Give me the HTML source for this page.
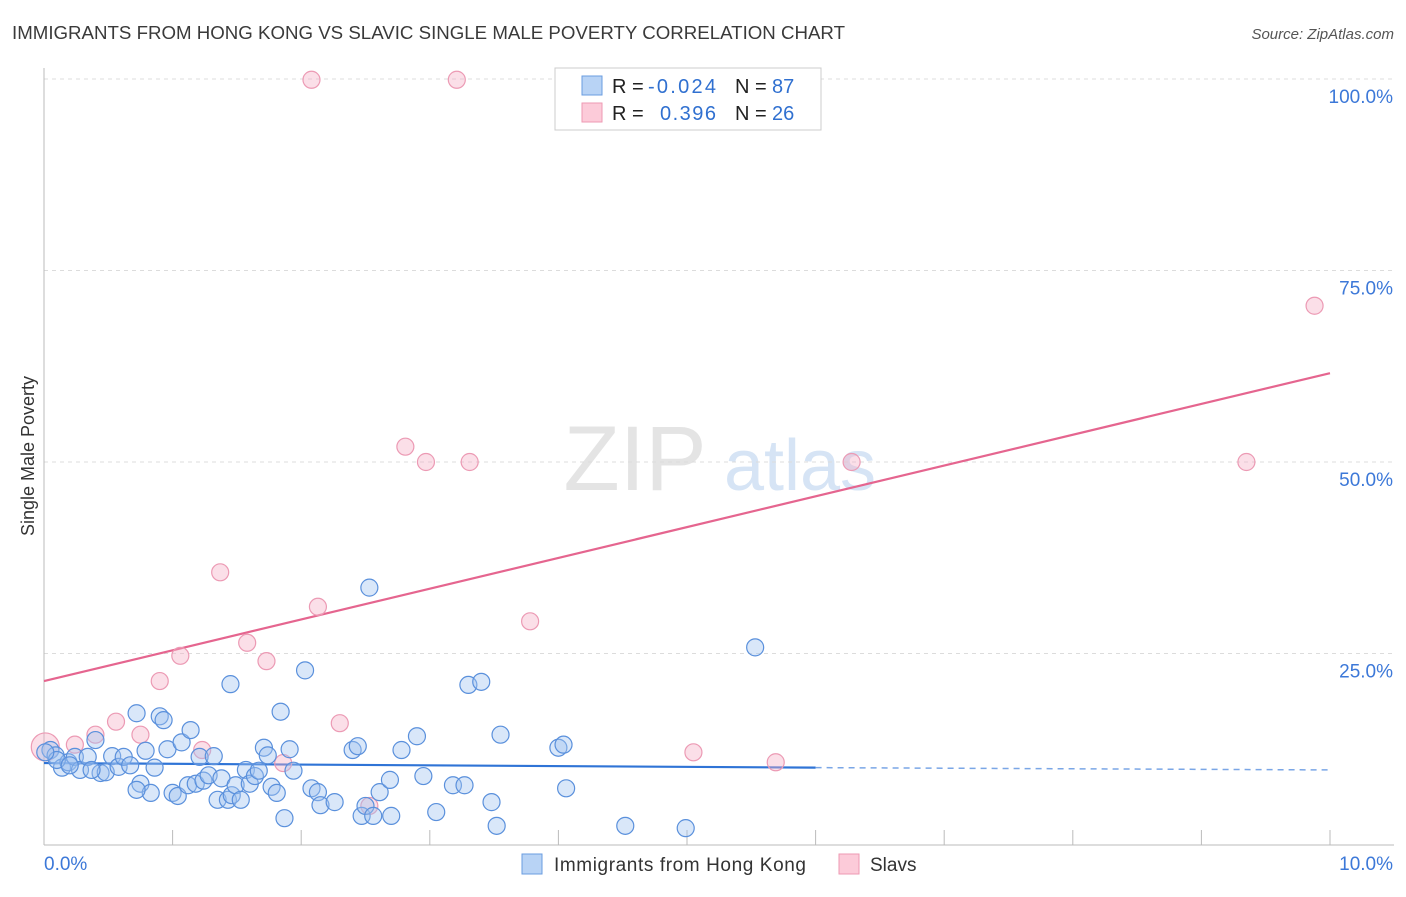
<!DOCTYPE html>
<html><head><meta charset="utf-8">
<style>
body{margin:0;background:#fff;font-family:"Liberation Sans",sans-serif;}
svg text{font-family:"Liberation Sans",sans-serif;}
</style></head>
<body>
<svg id="chart" width="1406" height="892" xmlns="http://www.w3.org/2000/svg">
<text x="12" y="39" font-size="18" fill="#3a3a3a" textLength="833" lengthAdjust="spacingAndGlyphs">IMMIGRANTS FROM HONG KONG VS SLAVIC SINGLE MALE POVERTY CORRELATION CHART</text>
<text x="1394" y="39" font-size="15" fill="#555" text-anchor="end" font-style="italic">Source: ZipAtlas.com</text>
<text x="34" y="456" font-size="18" fill="#333" transform="rotate(-90 34 456)" text-anchor="middle">Single Male Poverty</text>
<g>
<text x="635" y="490" font-size="92" fill="#e4e4e4" text-anchor="middle" font-family="Liberation Serif, serif">ZIP</text>
<text x="800" y="490" font-size="72" fill="#d6e4f5" text-anchor="middle">atlas</text>
</g>
<g id="grid"></g>
<g id="axes"></g>
<g id="trends"></g>
<g id="points"></g>
<g>
<rect x="555" y="68" width="266" height="62" fill="#fff" stroke="#ccc"/>
<rect x="582" y="76" width="20" height="19" fill="#b8d3f5" stroke="#6a9de0"/>
<rect x="582" y="103" width="20" height="19" fill="#fccbd9" stroke="#ee9ab3"/>
<text x="612" y="93" font-size="20" fill="#222">R = </text><text x="648" y="93" font-size="20" fill="#3070d0" textLength="68">-0.024</text>
<text x="735" y="93" font-size="20" fill="#222">N = </text><text x="772" y="93" font-size="20" fill="#3070d0">87</text>
<text x="612" y="120" font-size="20" fill="#222">R = </text><text x="660" y="120" font-size="20" fill="#3070d0" textLength="56">0.396</text>
<text x="735" y="120" font-size="20" fill="#222">N = </text><text x="772" y="120" font-size="20" fill="#3070d0">26</text>
</g>
<g>
<rect x="522" y="854" width="20" height="20" fill="#b8d3f5" stroke="#6a9de0"/>
<text x="554" y="871" font-size="19" fill="#333" textLength="252">Immigrants from Hong Kong</text>
<rect x="839" y="854" width="20" height="20" fill="#fccbd9" stroke="#ee9ab3"/>
<text x="870" y="871" font-size="19" fill="#333">Slavs</text>
</g>
</svg>
<script>
const blueX=[0.05,0.09,0.14,0.19,0.24,0.28,0.34,0.40,0.44,0.48,0.53,0.58,0.62,0.67,0.72,0.75,0.79,0.83,0.86,0.90,0.93,0.96,1.00,1.04,1.07,1.12,1.14,1.18,1.21,1.24,1.28,1.32,1.35,1.38,1.43,1.46,1.49,1.53,1.57,1.60,1.64,1.67,1.71,1.74,1.77,1.81,1.84,1.87,1.91,1.94,2.03,2.08,2.13,2.15,2.26,2.40,2.44,2.47,2.50,2.53,2.56,2.61,2.69,2.70,2.78,2.90,2.95,3.05,3.18,3.27,3.30,3.40,3.48,3.52,3.55,4.00,4.04,4.06,4.52,4.99,5.53,1.45,0.10,0.20,0.01,0.72,0.37];
const blueY=[12.4,11.7,10.1,10.8,11.5,9.8,11.5,13.7,9.4,9.5,11.6,10.2,11.5,10.4,17.2,8.0,12.3,6.8,10.1,16.8,16.3,12.5,6.8,6.4,13.4,7.8,15.0,8.0,11.5,8.4,9.1,11.6,5.9,8.7,5.9,6.5,7.8,5.9,9.8,8.0,9.0,9.7,12.7,11.7,7.6,6.8,17.4,3.5,12.5,9.7,22.8,7.4,6.9,5.2,5.6,12.4,12.9,3.8,5.1,33.6,3.8,6.9,8.5,3.8,12.4,14.2,9.0,4.3,7.8,7.8,20.9,21.3,5.6,2.5,14.4,12.7,13.1,7.4,2.5,2.2,25.8,21.0,11.1,10.4,12.1,7.2,9.8];
const pinkX=[0.01,0.24,0.40,0.56,0.75,0.90,1.06,1.23,1.37,1.58,1.73,1.86,2.08,2.13,2.30,2.53,2.81,2.97,3.21,3.31,3.78,5.05,5.69,6.28,9.35,9.88];
const pinkY=[12.8,13.1,14.4,16.1,14.4,21.4,24.7,12.4,35.6,26.4,24.0,10.7,99.9,31.1,15.9,5.1,52.0,50.0,99.9,50.0,29.2,12.1,10.8,50.0,50.0,70.4];
const blueTrendX=[0,6.0,10];
const blueTrendY=[10.7,10.1,9.8];
const pinkTrendX=[0,10];
const pinkTrendY=[21.4,61.6];
const yTicks=[25,50,75,100];
const yTickLabels=["25.0%","50.0%","75.0%","100.0%"];
const xTickLabels=["0.0%","10.0%"];

const NS="http://www.w3.org/2000/svg";
const X0=44,X1=1330,Y0=845,Y100=79;
const sx=v=>X0+(X1-X0)*v/10;
const sy=v=>Y0-(Y0-Y100)*v/100;
function mk(tag,attrs,parent){const e=document.createElementNS(NS,tag);for(const k in attrs)e.setAttribute(k,attrs[k]);parent.appendChild(e);return e;}
const grid=document.getElementById('grid');
yTicks.forEach((t,i)=>{
  const l=mk('line',{x1:X0,x2:1394,y1:sy(t),y2:sy(t),stroke:'#dcdcdc','stroke-dasharray':'4,4'},grid);
  
  
  const tx=mk('text',{x:1393,y:sy(t)+24,'font-size':19,fill:'#3c78d8','text-anchor':'end'},grid);
  tx.textContent=yTickLabels[i];
  
  
});
const axes=document.getElementById('axes');
const ya=mk('line',{x1:X0,x2:X0,y1:68,y2:Y0,stroke:'#bbb'},axes);


const xa=mk('line',{x1:X0,x2:1394,y1:Y0,y2:Y0,stroke:'#bbb'},axes);


for(let i=1;i<=10;i++){
  const t=mk('line',{x1:sx(i),x2:sx(i),y1:830,y2:Y0,stroke:'#bbb'},axes);
  
  
}
const xl0=mk('text',{x:44,y:870,'font-size':19,fill:'#3c78d8'},axes);xl0.textContent=xTickLabels[0];


const xl1=mk('text',{x:1393,y:870,'font-size':19,fill:'#3c78d8','text-anchor':'end'},axes);xl1.textContent=xTickLabels[1];



const tr=document.getElementById('trends');
const b1=mk('line',{x1:sx(blueTrendX[0]),y1:sy(blueTrendY[0]),x2:sx(blueTrendX[1]),y2:sy(blueTrendY[1]),stroke:'#2f74d6','stroke-width':2.2},tr);


const b2=mk('line',{x1:sx(blueTrendX[1]),y1:sy(blueTrendY[1]),x2:sx(blueTrendX[2]),y2:sy(blueTrendY[2]),stroke:'#7aa6e6','stroke-width':1.5,'stroke-dasharray':'6,5'},tr);


const p1=mk('line',{x1:sx(pinkTrendX[0]),y1:sy(pinkTrendY[0]),x2:sx(pinkTrendX[1]),y2:sy(pinkTrendY[1]),stroke:'#e5658f','stroke-width':2.2},tr);



const pts=document.getElementById('points');
pinkX.forEach((x,i)=>{
  const c=mk('circle',{cx:sx(x),cy:sy(pinkY[i]),r:i===0?14:8.5,fill:'rgba(246,176,198,0.4)',stroke:'#ec9ab4','stroke-width':1.2},pts);
  
  
});
blueX.forEach((x,i)=>{
  const c=mk('circle',{cx:sx(x),cy:sy(blueY[i]),r:8.5,fill:'rgba(160,196,240,0.4)',stroke:'#5a90dc','stroke-width':1.2},pts);
  
  
});
</script>
</body></html>
